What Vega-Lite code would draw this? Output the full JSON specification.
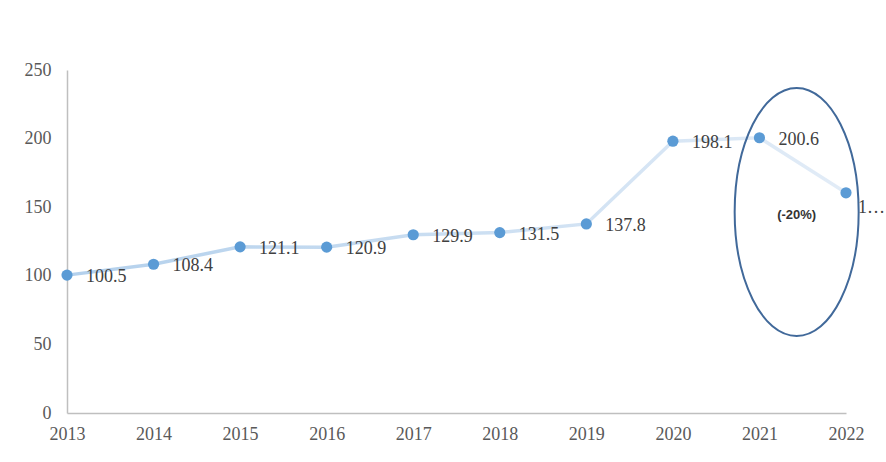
{
  "$schema": "https://vega.github.io/schema/vega-lite/v6.json",
  "width": 779, "height": 343,
  "autosize": {"type": "none"},
  "padding": {"left": 67, "top": 70, "right": 40, "bottom": 49},
  "background": "white",
  "config": {
    "view": {"stroke": null},
    "axis": {
      "grid": false, "ticks": false, "domainColor": "#bfbfbf", "domainWidth": 1.5, "labelFlush": false,
      "labelFont": "Liberation Serif", "labelFontSize": 18, "labelColor": "#595959", "title": null
    }
  },
  "datasets": {
    "series": [
      {"year": 2013, "value": 100.5, "label": "100.5"},
      {"year": 2014, "value": 108.4, "label": "108.4"},
      {"year": 2015, "value": 121.1, "label": "121.1"},
      {"year": 2016, "value": 120.9, "label": "120.9"},
      {"year": 2017, "value": 129.9, "label": "129.9"},
      {"year": 2018, "value": 131.5, "label": "131.5"},
      {"year": 2019, "value": 137.8, "label": "137.8"},
      {"year": 2020, "value": 198.1, "label": "198.1"},
      {"year": 2021, "value": 200.6, "label": "200.6"},
      {"year": 2022, "value": 160.5, "label": "1…"}
    ],
    "note": [
      {"year": 2021.43, "value": 146.5, "text": "(-20%)"}
    ]
  },
  "encoding": {
    "x": {"field": "year", "type": "quantitative", "scale": {"domain": [2013, 2022], "nice": false, "zero": false},
      "axis": {"values": [2013, 2014, 2015, 2016, 2017, 2018, 2019, 2020, 2021, 2022], "format": "d", "labelPadding": 12}},
    "y": {"field": "value", "type": "quantitative", "scale": {"domain": [0, 250], "nice": false},
      "axis": {"values": [0, 50, 100, 150, 200, 250], "labelPadding": 16}}
  },
  "layer": [
    {
      "data": {"name": "series"},
      "mark": {
        "type": "line", "strokeWidth": 3.5,
        "color": {"gradient": "linear", "x1": 0, "x2": 1, "y1": 0, "y2": 0,
          "stops": [{"offset": 0, "color": "#b3d0ec"}, {"offset": 1, "color": "#e2ecf7"}]}
      }
    },
    {
      "data": {"name": "series"},
      "mark": {"type": "point", "filled": true, "opacity": 1, "size": 125, "color": "#5b9bd5"}
    },
    {
      "data": {"name": "series"},
      "transform": [{"filter": "datum.year < 2022"}],
      "mark": {"type": "text", "align": "left", "baseline": "middle", "dx": 19, "dy": 2,
        "font": "Liberation Serif", "fontSize": 18, "color": "#404040"},
      "encoding": {"text": {"field": "label"}}
    },
    {
      "data": {"name": "series"},
      "transform": [{"filter": "datum.year == 2022"}],
      "mark": {"type": "text", "align": "left", "baseline": "middle", "dx": 12, "dy": 15,
        "font": "Liberation Serif", "fontSize": 18, "color": "#404040"},
      "encoding": {"text": {"field": "label"}}
    },
    {
      "data": {"name": "note"},
      "mark": {"type": "point", "shape": "M0,-1 A0.5,1 0 1,1 0,1 A0.5,1 0 1,1 0,-1 Z",
        "size": 61504, "filled": false, "stroke": "#41699a", "strokeWidth": 2, "opacity": 1}
    },
    {
      "data": {"name": "note"},
      "mark": {"type": "text", "align": "center", "baseline": "middle", "dy": 3,
        "font": "Liberation Sans", "fontSize": 13, "fontWeight": "bold", "color": "#333333"},
      "encoding": {"text": {"field": "text"}}
    }
  ]
}
